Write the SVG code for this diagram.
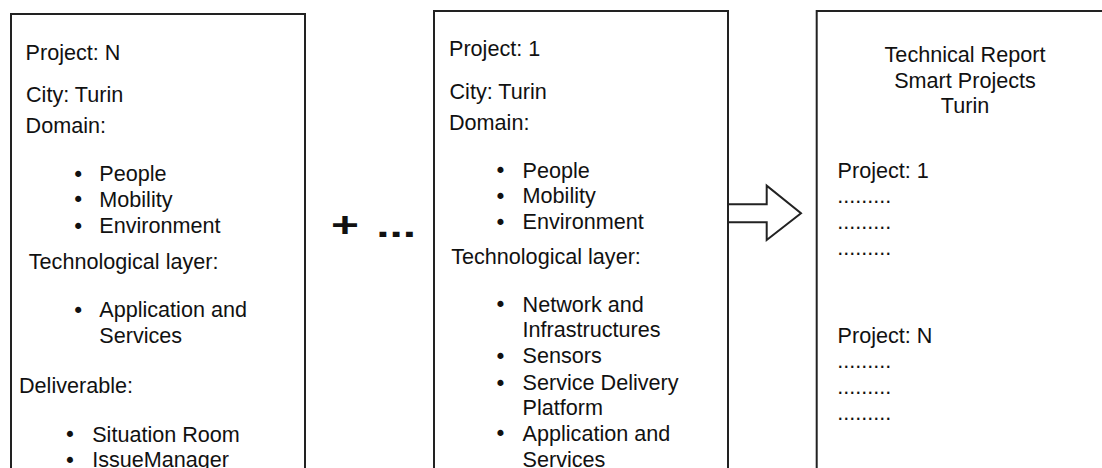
<svg xmlns="http://www.w3.org/2000/svg" width="1102" height="468" viewBox="0 0 1102 468">
<style>
.box{fill:#fff;stroke:#222;stroke-width:2}
.t{font-family:"Liberation Sans",Arial,Helvetica,sans-serif;font-size:21.6px;fill:#111}
.c{text-anchor:middle}
.b{font-family:"DejaVu Sans",sans-serif;font-size:21px;fill:#111;text-anchor:middle}
.big{font-family:"Liberation Sans",Arial,Helvetica,sans-serif;font-size:36px;font-weight:bold;fill:#111}
</style>
<rect width="1102" height="468" fill="#fff"/>
<g id="project-n">
<rect class="box" x="11" y="14" width="294" height="470"/>
<text class="t" x="25.6" y="60">Project: N</text>
<text class="t" x="26" y="101.7">City: Turin</text>
<text class="t" x="25.6" y="133.3">Domain:</text>
<text class="b" x="78.3" y="182">•</text>
<text class="t" x="99.3" y="181.4">People</text>
<text class="b" x="78.3" y="207.3">•</text>
<text class="t" x="99.3" y="206.7">Mobility</text>
<text class="b" x="78.3" y="233.6">•</text>
<text class="t" x="99.3" y="233">Environment</text>
<text class="t" x="28.8" y="269.3">Technological layer:</text>
<text class="b" x="78.3" y="317.9">•</text>
<text class="t" x="99.3" y="317.3">Application and</text>
<text class="t" x="99.3" y="342.7">Services</text>
<text class="t" x="19" y="393">Deliverable:</text>
<text class="b" x="70" y="442.3">•</text>
<text class="t" x="92.2" y="441.7">Situation Room</text>
<text class="b" x="70" y="467.6">•</text>
<text class="t" x="92.2" y="467">IssueManager</text>
</g>
<g id="ellipsis">
<text class="big" transform="translate(331,237) scale(1.33,1)" x="0" y="0">+<tspan dx="3"> ...</tspan></text>
</g>
<g id="project-1">
<rect class="box" x="434" y="11" width="294" height="470"/>
<text class="t" x="449" y="55.7">Project: 1</text>
<text class="t" x="449.5" y="99">City: Turin</text>
<text class="t" x="449" y="130">Domain:</text>
<text class="b" x="500.5" y="178.1">•</text>
<text class="t" x="522.6" y="177.5">People</text>
<text class="b" x="500.5" y="203.9">•</text>
<text class="t" x="522.6" y="203.3">Mobility</text>
<text class="b" x="500.5" y="229.6">•</text>
<text class="t" x="522.6" y="229">Environment</text>
<text class="t" x="451.2" y="264.3">Technological layer:</text>
<text class="b" x="500.5" y="312.3">•</text>
<text class="t" x="522.6" y="311.7">Network and</text>
<text class="t" x="522.6" y="336.7">Infrastructures</text>
<text class="b" x="500.5" y="363.9">•</text>
<text class="t" x="522.6" y="363.3">Sensors</text>
<text class="b" x="500.5" y="390.6">•</text>
<text class="t" x="522.6" y="390">Service Delivery</text>
<text class="t" x="522.6" y="415">Platform</text>
<text class="b" x="500.5" y="441.3">•</text>
<text class="t" x="522.6" y="440.7">Application and</text>
<text class="t" x="522.6" y="467">Services</text>
</g>
<g id="report">
<rect class="box" x="816.7" y="11" width="300" height="470"/>
<text class="t c" x="965" y="61.7">Technical Report</text>
<text class="t c" x="965" y="87.5">Smart Projects</text>
<text class="t c" x="965" y="113">Turin</text>
<text class="t" x="837.6" y="178.3">Project: 1</text>
<text class="t" x="837.3" y="203">.........</text>
<text class="t" x="837.3" y="229">.........</text>
<text class="t" x="837.3" y="254.5">.........</text>
<text class="t" x="837.6" y="343.3">Project: N</text>
<text class="t" x="837.3" y="368">.........</text>
<text class="t" x="837.3" y="394">.........</text>
<text class="t" x="837.3" y="420">.........</text>
</g>
<g id="connectors">
<polygon points="728,204.3 766.7,204.3 766.7,185.7 801,213.3 766.7,240 766.7,222.3 728,222.3" fill="#fff" stroke="#222" stroke-width="2" stroke-linejoin="miter"/>
</g>
</svg>
